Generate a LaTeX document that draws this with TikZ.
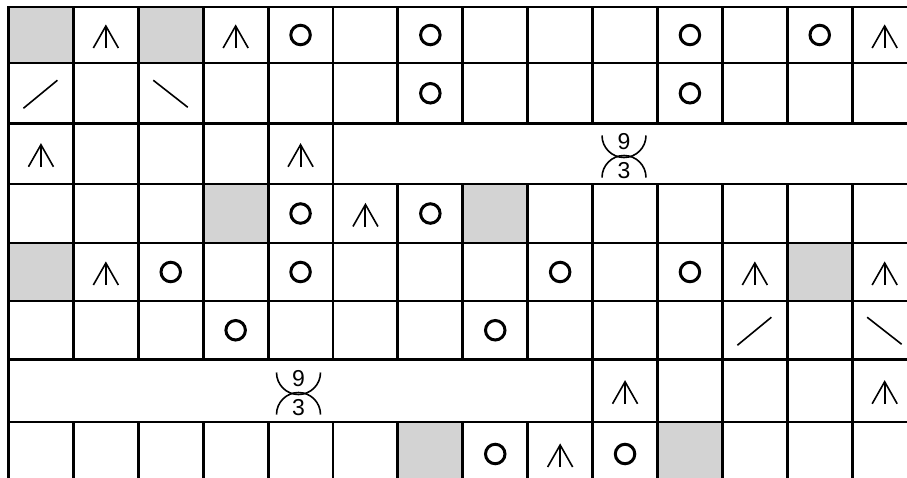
\documentclass[tikz,border=0pt]{standalone}
\usepackage{fontspec}
\setmainfont{Liberation Sans}
\usetikzlibrary{positioning}
\definecolor{cellgray}{RGB}{211,211,211}
\def\rowlines{{7,63,123.5,184,243,301,359.5,422,486}}
\newcommand\cellcentre[2]{%
  \pgfmathsetmacro\cx{8.5+64.9*(#1+0.5)}%
  \pgfmathsetmacro\ya{\rowlines[#2]}%
  \pgfmathsetmacro\yb{\rowlines[#2+1]}%
  \pgfmathsetmacro\cy{(\ya+\yb)/2}}

\begin{document}
\begin{tikzpicture}[x=1pt,y=-1pt,
  grid/.style={line width=2.9pt,line cap=rect},
  sym/.style={line width=1.6pt},
  yo/.style={circle,draw,line width=3pt,minimum size=19.5pt,inner sep=0pt},
  digit/.style={font=\fontsize{23}{23}\selectfont,inner sep=0pt},
  dec/.pic={\draw[sym] (-12.5,11) -- (0,-11) -- (12.5,11);
            \draw[line width=2pt] (0,-11) -- (0,11);},
  rslant/.pic={\draw[sym] (-17.5,15) -- (16.5,-13);},
  lslant/.pic={\draw[sym] (-17.5,-13) -- (17,14);},
  cable/.pic={\draw[sym] (-22,-21) arc[start angle=180,end angle=0,radius=22];
              \draw[sym] (-22,21) arc[start angle=180,end angle=360,radius=22];
              \node[digit] (-nine) at (0,-15) {9};
              \node[digit] (-three) at (0,14) {3};}]
\useasboundingbox (0,0) rectangle (907,477);
\clip (0,0) rectangle (907,477);
\fill[white] (0,0) rectangle (907,477);

\foreach \c/\r in {0/0,2/0,3/3,7/3,0/4,12/4,6/7,10/7}{
  \pgfmathsetmacro\xa{8.5+64.9*\c}
  \pgfmathsetmacro\xb{8.5+64.9*(\c+1)}
  \pgfmathsetmacro\ya{\rowlines[\r]}
  \pgfmathsetmacro\yb{\rowlines[\r+1]}
  \fill[cellgray] (\xa,\ya) rectangle (\xb,\yb);
}

\foreach \i in {0,...,14}{
  \pgfmathsetmacro\xl{8.5+64.9*\i}
  \draw[grid] (\xl,7) -- (\xl,123.5) (\xl,184) -- (\xl,359.5) (\xl,422) -- (\xl,486);
}
\foreach \i in {0,...,5}{
  \pgfmathsetmacro\xl{8.5+64.9*\i}
  \draw[grid] (\xl,123.5) -- (\xl,184);
}
\foreach \i in {0,9,10,11,12,13,14}{
  \pgfmathsetmacro\xl{8.5+64.9*\i}
  \draw[grid] (\xl,359.5) -- (\xl,422);
}
\foreach \y in {7,63,123.5,184,243,301,359.5,422}
  \draw[grid] (8.5,\y) -- (920,\y);

\foreach \c/\r in {4/0,6/0,10/0,12/0,6/1,10/1,4/3,6/3,2/4,4/4,8/4,10/4,3/5,7/5,7/7,9/7}{
  \cellcentre{\c}{\r}
  \node[yo] (yo-\c-\r) at (\cx,\cy) {};
}
\foreach \c/\r in {1/0,3/0,13/0,0/2,4/2,5/3,1/4,11/4,13/4,9/6,13/6,8/7}{
  \cellcentre{\c}{\r}
  \pic (dec-\c-\r) at (\cx,\cy+2) {dec};
}
\foreach \c/\r in {0/1,11/5}{
  \cellcentre{\c}{\r}
  \pic (rs-\c-\r) at (\cx,\cy) {rslant};
}
\foreach \c/\r in {2/1,13/5}{
  \cellcentre{\c}{\r}
  \pic (ls-\c-\r) at (\cx,\cy) {lslant};
}

\pic (cableA) at (624,156.5) {cable};
\pic (cableB) at (298.5,393.5) {cable};
\end{tikzpicture}
\end{document}
